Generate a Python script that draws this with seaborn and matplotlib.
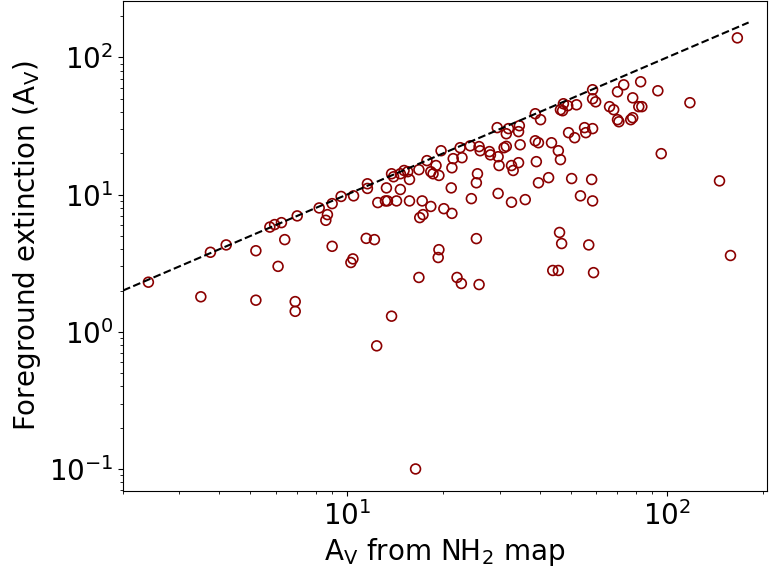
# comparacion de extincion: foreground vs mapa NH2

import numpy as np
import pandas as pd
import matplotlib
matplotlib.use("Agg")
import matplotlib.pyplot as plt
import seaborn as sns

# --- Datos ---
av_nh2 = [
    2.4, 3.5, 3.75, 4.2, 5.2, 5.2, 5.75, 5.95, 6.25, 6.1,
    6.4, 6.9, 6.9, 7.0, 8.2, 8.7, 8.6, 9.0, 9.0, 10.3,
    10.45, 11.5, 12.2, 12.5, 9.6, 10.5, 11.6, 11.6, 13.3, 14.7,
    13.2, 13.4, 14.3, 15.7, 17.2, 13.8, 14.0, 14.7, 15.1, 15.5,
    15.7, 16.8, 17.8, 18.3, 18.6, 19.4, 19.0, 19.7, 21.5, 21.3,
    22.9, 22.6, 24.3, 25.9, 26.1, 27.9, 28.1, 29.7, 29.9, 29.5,
    31.5, 32.0, 31.0, 31.5, 32.7, 33.1, 34.4, 34.6, 34.4, 34.8,
    38.8, 40.3, 38.8, 39.7, 43.6, 45.8, 46.5, 46.5, 39.1, 42.7,
    39.7, 25.6, 25.4, 21.2, 29.7, 24.5, 32.7, 36.1, 18.3, 16.9,
    17.3, 20.1, 21.3, 25.4, 19.4, 19.3, 16.8, 22.1, 22.8, 25.9,
    44.0, 45.8, 46.2, 46.9, 47.5, 47.2, 49.0, 52.2, 58.6, 58.6,
    59.9, 73.3, 70.1, 78.2, 82.8, 93.7, 118.0, 66.2, 68.2, 81.7,
    83.5, 70.1, 70.8, 77.1, 78.2, 49.3, 51.5, 55.3, 55.8, 58.6,
    96.0, 146.0, 58.2, 50.4, 53.7, 58.6, 57.0, 59.0, 158.0, 166.0,
    16.4, 12.4, 13.8,
]
av_fg = [
    2.3, 1.8, 3.8, 4.3, 3.9, 1.7, 5.8, 6.05, 6.25, 3.0,
    4.7, 1.66, 1.41, 7.0, 8.0, 7.15, 6.5, 8.6, 4.2, 3.2,
    3.4, 4.8, 4.7, 8.75, 9.7, 9.8, 12.0, 11.1, 11.2, 10.9,
    9.0, 9.0, 9.0, 9.0, 9.0, 14.2, 13.5, 14.2, 15.0, 14.7,
    12.9, 15.2, 17.7, 14.7, 14.2, 13.8, 16.3, 20.9, 18.3, 15.7,
    18.6, 22.0, 22.7, 22.4, 20.9, 20.6, 19.5, 18.9, 16.3, 30.8,
    27.8, 30.3, 22.0, 22.5, 16.3, 15.0, 17.1, 31.8, 28.8, 23.1,
    38.9, 35.2, 24.7, 23.9, 23.9, 20.9, 18.0, 41.6, 17.4, 13.3,
    12.2, 14.2, 12.2, 11.2, 10.2, 9.35, 8.8, 9.2, 8.2, 6.8,
    7.15, 7.9, 7.3, 4.78, 3.97, 3.48, 2.49, 2.49, 2.25, 2.21,
    2.8, 2.8, 5.3, 4.4, 46.0, 40.9, 44.5, 45.2, 58.2, 50.0,
    47.5, 63.2, 56.2, 50.8, 66.5, 57.2, 46.8, 43.8, 41.6, 43.8,
    43.8, 35.2, 34.0, 35.2, 36.4, 28.3, 26.0, 30.8, 28.3, 30.3,
    19.9, 12.6, 12.9, 13.1, 9.8, 9.0, 4.3, 2.7, 3.6, 139.0,
    0.1, 0.79, 1.3,
]

# linea 1:1
linea_x = [2.0, 180.0]
linea_y = [2.0, 180.0]

df = pd.DataFrame({"nh2": av_nh2, "fg": av_fg})
df_linea = pd.DataFrame({"x": linea_x, "y": linea_y})

# --- Grafico ---
fig, ax = plt.subplots(figsize=(7.69, 5.71), dpi=100)
fig.subplots_adjust(left=0.16, right=0.997, bottom=0.14, top=0.999)

sns.lineplot(data=df_linea, x="x", y="y", ax=ax, color="black",
             linestyle="--", linewidth=1.5)
sns.scatterplot(data=df, x="nh2", y="fg", ax=ax, marker="o", s=50,
                facecolor="none", edgecolor="darkred", linewidth=1.2)

ax.set_xscale("log")
ax.set_yscale("log")
ax.set_xlim(2, 205)
ax.set_ylim(0.069, 260)

ax.set_xlabel(r"A$_\mathrm{V}$ from NH$_2$ map", fontsize=20)
ax.set_ylabel(r"Foreground extinction (A$_\mathrm{V}$)", fontsize=20)
ax.tick_params(axis="both", which="major", labelsize=20)

plt.savefig("out.png", dpi=100)
